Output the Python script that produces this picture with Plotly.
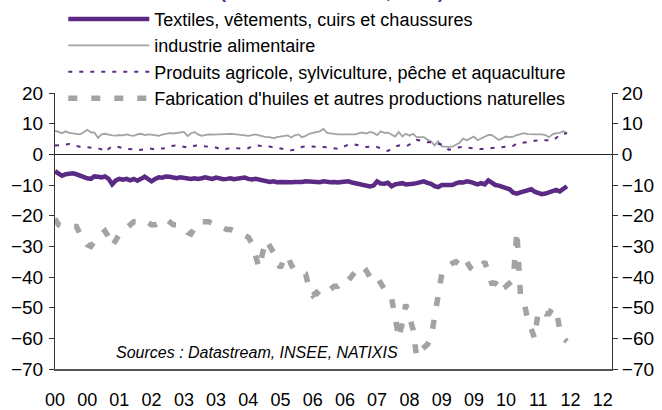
import plotly.graph_objects as go
import pandas as pd

months = pd.date_range("2000-01-01", periods=144, freq="MS")

textiles = [-5.5, -6.5, -7, -6.5, -6.2, -6.2, -6.5, -7, -7.2, -7.8, -8, -7.2,
            -7.3, -7.5, -7.2, -8, -9.8, -8.5, -8, -8.3, -8, -8.5, -8, -8.6,
            -8, -7.3, -8, -8.8, -8, -7.5, -7.6, -7.2, -7.3, -7.6, -7.8, -7.5,
            -7.7, -8, -8, -7.8, -8, -7.8, -7.5, -7.8, -8, -7.6, -8, -8.1,
            -8, -7.8, -8.1, -8, -7.8, -7.6, -8, -8.2, -8, -8.2, -8.5, -8.8,
            -9, -8.8, -9.1, -9, -9.1, -9.2, -9.1, -9, -9.1, -9, -8.8, -8.9,
            -8.8, -8.8, -9.1, -8.8, -9, -9.1, -9, -9.2, -9, -8.9, -8.8, -9.2,
            -9.5, -9.8, -9.9, -10, -10.5, -10.2, -8.8, -9.5, -9.6, -9.3, -10.4, -9.8,
            -9.6, -9.4, -9.8, -9.8, -9.6, -9.4, -9.2, -8.8, -9.3, -9.6, -10.4, -10.7,
            -10, -9.9, -9.8, -10, -9.5, -9.1, -9.2, -8.8, -9, -9.3, -9.8, -9.4,
            -9.8, -8.5, -9.2, -10, -10.2, -10.5, -11, -11.4, -12.5, -12.8, -12.4, -12,
            -11.8, -11.4, -12.2, -12.6, -13, -12.8, -12.5, -12, -11.6, -12.1, -11.2, -10.4]

alimentaire = [7.7, 7.2, 6.9, 7.5, 7, 6.8, 6.6, 6.5, 7.2, 8, 7.2, 7.1,
               5.4, 6.5, 6.7, 6.4, 6.2, 6.1, 6.3, 6.2, 6.5, 6.2, 6, 6.5,
               6.7, 6.3, 6.5, 6.4, 6.2, 6, 6.4, 6.7, 6.9, 6.8, 7, 7.2,
               7.3, 6, 6.8, 7.3, 6.5, 6, 6.3, 6.5, 6.4, 6.5, 6.6, 6.6,
               6.7, 6.7, 6.6, 6.5, 6.5, 6.2, 6, 6.3, 6.5, 6.2, 5.8, 5.6,
               5.6, 5.2, 5.6, 5.8, 6, 6.2, 5.5, 6.2, 6.5, 5.6, 6, 6.7,
               7, 7.3, 7.5, 8.3, 7, 6.8, 6.6, 6.5, 6.5, 6.5, 6.5, 6.5,
               6.5, 7, 7.1, 6.8, 7.3, 7, 6.3, 7.5, 7, 7.1, 6.5, 5.8,
               7.3, 5.8, 6.7, 6.1, 6.7, 5.6, 5.6, 5.6, 4.8, 4.2, 2.9, 4.3,
               2.6, 2.4, 2.4, 2.5, 3.2, 3.8, 5.1, 4.6, 5.2, 5.8, 4.6, 5.1,
               5.8, 6.3, 6.3, 5.6, 4.7, 5.2, 5.8, 5.6, 5.8, 6.3, 6.6, 6.9,
               6.6, 6.5, 6.5, 6.5, 6.5, 6.3, 5.6, 6.5, 6.9, 7, 7.5, 6.9]

agricole = [2.9, 2.9, 3.0, 3.2, 3.4, 3.0, 2.7, 2.5, 2.4, 2.3, 2.2, 2.2,
            2.0, 1.6, 0.8, 1.8, 2.6, 2.6, 2.2, 2.0, 1.8, 1.8, 1.6, 1.3,
            1.5, 1.7, 1.8, 1.8, 1.6, 1.8, 1.8, 2.0, 2.4, 2.8, 2.9, 2.6,
            2.4, 2.2, 2.4, 2.8, 2.9, 2.8, 2.7, 2.6, 2.5, 2.2, 1.8, 1.5,
            1.8, 2.1, 2.2, 2.0, 1.9, 1.8, 2.0, 2.6, 2.9, 2.8, 2.7, 2.6,
            2.6, 2.4, 2.1, 1.8, 1.7, 1.5, 1.3, 1.5, 2.0, 2.4, 2.6, 2.6,
            2.6, 2.5, 2.4, 2.4, 2.3, 2.2, 2.0, 1.8, 2.2, 2.8, 3.2, 3.4,
            3.2, 2.9, 2.6, 2.4, 2.5, 2.6, 2.4, 1.8, 1.4, 1.1, 1.8, 2.5,
            2.9, 2.8, 2.6, 3.2, 4.0, 4.7, 4.5, 4.2, 3.9, 3.9, 3.7, 3.4,
            3.2, 2.4, 1.5, 1.6, 2.0, 2.3, 2.4, 2.2, 2.0, 1.8, 1.8, 1.7,
            1.8, 1.8, 2.0, 2.2, 2.2, 2.3, 2.4, 2.6, 2.8, 3.5, 3.7, 3.8,
            3.9, 4.1, 4.4, 4.6, 4.7, 4.6, 4.5, 4.5, 5.3, 6.5, 6.5, 7.0]

huiles = [-21, -23, -23.5, -23.5, -23.5, -23.5, -23.5, -26, -28, -29.5, -30, -28,
          -26.5, -26, -25, -27, -30, -28, -26, -25, -24, -22.5, -22, -22,
          -22, -21.5, -22, -23, -23, -22.5, -22, -21, -22, -23, -23, -23.5,
          -24, -25.5, -26, -24, -22, -22, -22, -22, -22.5, -23.5, -24, -24,
          -24.5, -24.5, -25, -25.5, -26, -26.5, -27, -29, -33, -37, -32, -28,
          -30, -32, -35, -37, -34, -33, -36, -38, -38.5, -38.5, -39, -44,
          -46, -45, -46, -45, -44, -44, -43, -43, -42, -42.5, -41, -40,
          -38, -37.5, -39, -38, -40, -41, -40, -42, -44, -45, -47, -53,
          -60, -55, -49, -53, -57, -66, -64, -63, -62, -60, -53, -45,
          -39, -37, -36, -35.5, -35, -36, -34, -35, -37, -38, -37.5, -37,
          -35, -39, -42, -42, -43, -41, -43, -42, -41, -25, -46, -48,
          -54, -57, -60, -51, -51, -52, -52, -50, -51, -57, -60, -61]

tick_labels = ["00", "00", "01", "02", "03", "03", "04", "05", "06", "06",
               "07", "08", "09", "09", "10", "11", "12", "12"]
tick_dates = pd.date_range("2000-01-01", periods=len(tick_labels), freq="9MS")

series_names = ["Textiles, vêtements, cuirs et chaussures",
                "industrie alimentaire",
                "Produits agricole, sylviculture, pêche et aquaculture",
                "Fabrication d'huiles et autres productions naturelles"]

PURPLE = "#5b2a84"
GRAY = "#a3a3a3"
FONT = "Liberation Sans, Arial, sans-serif"

fig = go.Figure()
fig.add_trace(go.Scatter(x=months, y=textiles, name=series_names[0], mode="lines",
                         line=dict(color=PURPLE, width=4.5)))
fig.add_trace(go.Scatter(x=months, y=alimentaire, name=series_names[1], mode="lines",
                         line=dict(color=GRAY, width=1.8)))
fig.add_trace(go.Scatter(x=months, y=agricole, name=series_names[2], mode="lines",
                         line=dict(color=PURPLE, width=2, dash="4px,7px")))
fig.add_trace(go.Scatter(x=months, y=huiles, name=series_names[3], mode="lines",
                         line=dict(color=GRAY, width=5.5, dash="9px,14px")))
# invisible companion trace so the right-hand axis is drawn
fig.add_trace(go.Scatter(x=months, y=textiles, yaxis="y2", mode="lines",
                         line=dict(width=0, color="rgba(0,0,0,0)"),
                         showlegend=False, hoverinfo="skip"))

fig.update_layout(
    width=662, height=410,
    margin=dict(l=55, r=50, t=93, b=41, autoexpand=False),
    paper_bgcolor="white", plot_bgcolor="white",
    font=dict(family=FONT, size=18, color="black"),
    showlegend=True,
    legend=dict(xref="container", yref="container", x=0.0956, y=0.998,
                xanchor="left", yanchor="top", bgcolor="rgba(0,0,0,0)",
                font=dict(size=18, family=FONT, color="black"),
                itemwidth=81, tracegroupgap=0, traceorder="normal"),
    xaxis=dict(type="date", range=["2000-01-01", "2012-12-18"],
               tickmode="array", tickvals=tick_dates, ticktext=tick_labels,
               showline=True, linecolor="#555555", linewidth=1.5, ticks="",
               showgrid=False, zeroline=False, ticklabelstandoff=14,
               tickfont=dict(size=18)),
    yaxis=dict(range=[-70, 20], dtick=10, showline=True, linecolor="#333333",
               linewidth=1, ticks="outside", ticklen=5, tickcolor="#333333",
               showgrid=False, zeroline=True, zerolinecolor="#222222",
               zerolinewidth=1.2, tickfont=dict(size=19), ticklabelstandoff=2),
    yaxis2=dict(range=[-70, 20], dtick=10, overlaying="y", side="right",
                showline=True, linecolor="#333333", linewidth=1,
                ticks="outside", ticklen=5, tickcolor="#333333",
                showgrid=False, zeroline=False, tickfont=dict(size=19)),
)

fig.add_annotation(text="<i>Sources : Datastream, INSEE, NATIXIS</i>",
                   xref="paper", yref="paper", x=0.3627, y=0.058,
                   xanchor="center", yanchor="middle",
                   showarrow=False, font=dict(size=16, family=FONT, color="black"))
fig.add_annotation(text="<b>(Glissement annuel, en %)</b>",
                   xref="paper", yref="paper", x=0.497, y=1.3235,
                   xanchor="center", yanchor="bottom", showarrow=False,
                   font=dict(size=18, family=FONT, color=PURPLE))

fig.write_html("out.html", config={"displayModeBar": False},
               post_script="document.body.style.margin='0px';")
